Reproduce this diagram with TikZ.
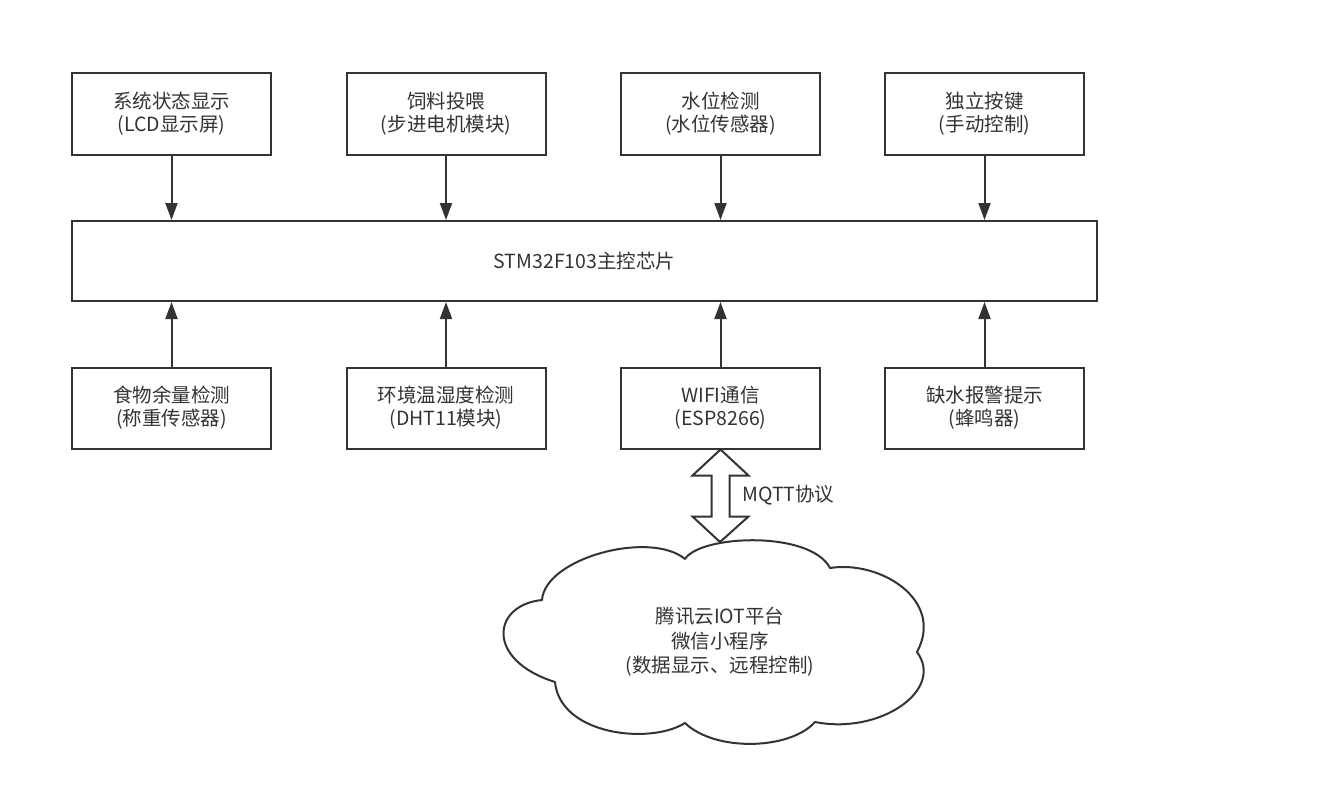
\documentclass[tikz,border=0pt]{standalone}
\usepackage{fontspec}
\setmainfont{Noto Sans CJK SC}
\usetikzlibrary{arrows.meta,calc}
\definecolor{ln}{HTML}{333333}
\definecolor{tx}{HTML}{333333}
\begin{document}
\begin{tikzpicture}[x=1pt,y=-1pt,
  box/.style={draw=ln, line width=2pt, fill=white, minimum width=199pt, minimum height=82pt, inner sep=0pt, align=center, text=tx, font=\fontsize{19.5}{23}\selectfont},
  conn/.style={draw=ln, line width=2pt, -{Triangle[length=17pt,width=12pt]}},
  lbl/.style={text=tx, align=center, font=\fontsize{19.5}{24.5}\selectfont, inner sep=0pt},
]
\fill[white] (0,0) rectangle (1330,788);
\useasboundingbox (0,0) rectangle (1330,788);
% top row
\node[box] (t1) at (171.5,114) {系统状态显示\\(LCD显示屏)};
\node[box] (t2) at (446,114) {饲料投喂\\(步进电机模块)};
\node[box] (t3) at (720.5,114) {水位检测\\(水位传感器)};
\node[box] (t4) at (984.5,114) {独立按键\\(手动控制)};
% main
\node[box, minimum width=1025pt, minimum height=80pt] (main) at (584.5,261) {STM32F103主控芯片};
% bottom row
\node[box, minimum height=81pt] (b1) at (171.5,408) {食物余量检测\\(称重传感器)};
\node[box, minimum height=81pt] (b2) at (446,408) {环境温湿度检测\\(DHT11模块)};
\node[box, minimum height=81pt] (b3) at (720.5,408) {WIFI通信\\(ESP8266)};
\node[box, minimum height=81pt] (b4) at (984.5,408) {缺水报警提示\\(蜂鸣器)};
% arrows
\foreach \n in {t1,t2,t3,t4}{
  \draw[conn] (\n.south) -- (\n.south |- main.north);
}
\foreach \n in {b1,b2,b3,b4}{
  \draw[conn] (\n.north) -- (\n.north |- main.south);
}
% cloud
\draw[ln, line width=2pt, fill=white, line join=round]
  (542,600) .. controls (545,558) and (650,530) .. (685,559)
  .. controls (700,535) and (810,530) .. (830,568)
  .. controls (880,560) and (945,600) .. (917,652)
  .. controls (945,690) and (880,735) .. (815,722)
  .. controls (790,750) and (715,752) .. (685,723)
  .. controls (650,745) and (560,735) .. (555,682)
  .. controls (485,660) and (492,605) .. (542,600) -- cycle;
\node[lbl] (cloud) at (720,642) {腾讯云IOT平台\\微信小程序\\(数据显示、远程控制)};
\coordinate (ctop) at (720,542);
% double arrow
\draw[ln, line width=2pt, fill=white, line join=miter]
  (b3.south) -- ($(b3.south)+(28,26)$) -- ($(b3.south)+(9,26)$) -- ($(b3.south)+(9,67)$)
  -- ($(b3.south)+(28,67)$) -- (ctop) -- ($(b3.south)+(-28,67)$) -- ($(b3.south)+(-9,67)$)
  -- ($(b3.south)+(-9,26)$) -- ($(b3.south)+(-28,26)$) -- cycle;
\node[lbl, anchor=west] (mqtt) at (742,495) {MQTT协议};
\end{tikzpicture}
\end{document}
